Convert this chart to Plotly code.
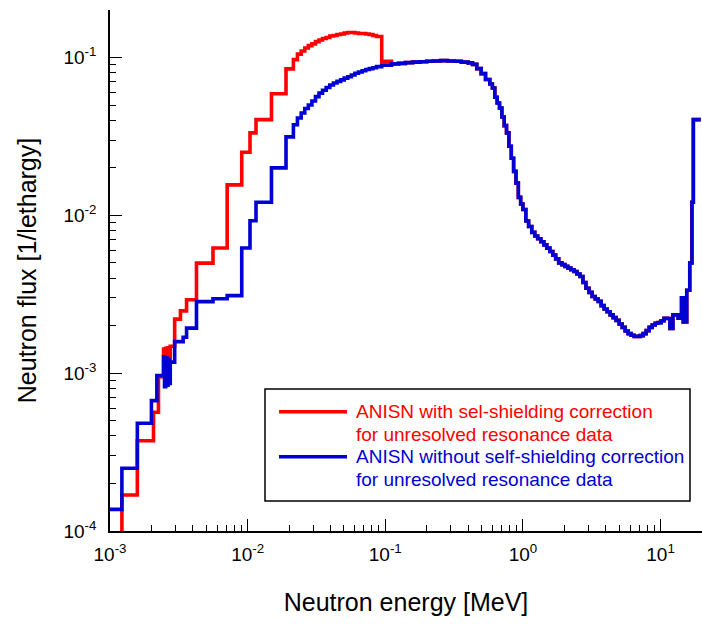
import math
import plotly.graph_objects as go

# ---------------- data ----------------
# group boundaries [MeV], ascending
ENERGY_EDGES_LOW = [
    1.00e-3, 1.22e-3, 1.58e-3, 2.00e-3, 2.07e-3, 2.19e-3, 2.25e-3, 2.45e-3,
    2.49e-3, 2.54e-3, 2.59e-3, 2.64e-3, 2.69e-3, 2.74e-3, 2.95e-3, 3.25e-3,
    3.40e-3, 3.60e-3, 4.25e-3, 5.60e-3, 7.10e-3, 9.06e-3, 1.04e-2, 1.15e-2,
    1.49e-2, 1.90e-2, 2.15e-2,
    0.0230, 0.0245, 0.0260, 0.0276, 0.0293, 0.0311, 0.0330, 0.0350, 0.0372,
    0.0395, 0.0420, 0.0446, 0.0474, 0.0503, 0.0534, 0.0567, 0.0602, 0.0639,
    0.0679, 0.0721, 0.0766, 0.0813, 0.0863, 0.0942,
]
ENERGY_EDGES_HIGH = [
    0.111, 0.125, 0.140, 0.158, 0.178, 0.200, 0.224, 0.252, 0.283, 0.318, 0.357,
    0.400, 0.430, 0.462, 0.497, 0.535, 0.575, 0.600, 0.625, 0.650, 0.676,
    0.703, 0.731, 0.760, 0.791, 0.823, 0.856, 0.890, 0.926, 0.963, 1.00,
    1.05, 1.10, 1.16, 1.22, 1.28, 1.35, 1.42, 1.49, 1.57, 1.65,
    1.73, 1.82, 1.92, 2.02, 2.12, 2.23, 2.35, 2.47, 2.60, 2.73,
    2.87, 3.02, 3.18, 3.35, 3.52, 3.70, 3.89, 4.09, 4.30, 4.52,
    4.75, 5.00, 5.26, 5.53, 5.81, 6.11, 6.43, 6.76, 7.11, 7.47,
    7.86, 8.26, 8.69, 9.14, 9.61, 10.1, 10.6, 11.2, 11.7, 12.3,
    12.8, 13.4, 13.8, 14.2, 14.6, 15.0, 15.5, 16.3, 16.9, 17.3,
    19.6,
]

# flux per unit lethargy below 0.111 MeV (the two calculations differ)
FLUX_WITH_LOW = [
    8.0e-5, 1.69e-4, 3.73e-4, 3.73e-4, 5.66e-4, 5.66e-4, 9.5e-4,
    1.42e-3, 1.05e-3, 1.44e-3, 1.10e-3, 1.45e-3, 1.20e-3,
    1.48e-3, 2.20e-3, 2.48e-3, 2.48e-3, 2.92e-3, 4.98e-3, 6.21e-3,
    1.56e-2, 2.51e-2, 3.33e-2, 4.04e-2, 5.90e-2, 8.47e-2, 9.70e-2,
    0.105, 0.110, 0.115, 0.119, 0.122, 0.126, 0.129, 0.132, 0.134,
    0.137, 0.138, 0.140, 0.141, 0.143, 0.144, 0.144, 0.143, 0.142,
    0.142, 0.141, 0.140, 0.138, 0.136, 0.0946,
]
FLUX_WITHOUT_LOW = [
    1.37e-4, 2.50e-4, 4.82e-4, 6.70e-4, 6.70e-4, 9.66e-4, 9.66e-4,
    1.27e-3, 8.2e-4, 1.25e-3, 8.4e-4, 1.22e-3, 8.6e-4,
    1.175e-3, 1.585e-3, 1.585e-3, 1.69e-3, 1.93e-3, 2.84e-3, 2.96e-3,
    3.10e-3, 6.21e-3, 9.24e-3, 1.21e-2, 2.00e-2, 3.14e-2, 3.75e-2,
    0.0414, 0.0445, 0.0475, 0.0500, 0.0530, 0.0565, 0.0595, 0.0620, 0.0645,
    0.0670, 0.0690, 0.0706, 0.0722, 0.0740, 0.0755, 0.0775, 0.0795, 0.0810,
    0.0825, 0.0840, 0.0850, 0.0862, 0.0875, 0.0895,
]
# above 0.111 MeV both calculations coincide
FLUX_COMMON_HIGH = [
    0.0912, 0.0918, 0.0928, 0.0935, 0.0940, 0.0946, 0.0950, 0.0955, 0.0950, 0.0946,
    0.0935, 0.0925, 0.0905, 0.0850, 0.0790, 0.0725, 0.0680, 0.0641, 0.0560, 0.0515,
    0.0479, 0.0420, 0.0370, 0.0333, 0.0274, 0.0230, 0.0190, 0.0160, 0.0130, 0.0118,
    0.0109, 0.0092, 0.0085, 0.0078, 0.0074, 0.0071, 0.0068, 0.0065, 0.0062, 0.0059,
    0.0056, 0.0053, 0.0050, 0.00487, 0.00475, 0.00464, 0.00452, 0.00441, 0.00425, 0.0041,
    0.00375, 0.00345, 0.00325, 0.00306, 0.00295, 0.00285, 0.00268, 0.00255, 0.00245, 0.00234,
    0.00225, 0.00216, 0.00205, 0.00195, 0.00185, 0.00178, 0.00174, 0.00171, 0.00171, 0.00173,
    0.00178, 0.00186, 0.00195, 0.00202, 0.00207, 0.00209, 0.00215, 0.00223, 0.00222, 0.00192,
    0.00234, 0.00234, 0.00223, 0.00223, 0.0030, 0.00211, 0.00211, 0.00335, 0.0050, 0.0121,
    0.0404,
]

X_TICK_VALUES = [1e-3, 1e-2, 1e-1, 1e0, 1e1]
X_TICK_LABELS = ["10<sup>-3</sup>", "10<sup>-2</sup>", "10<sup>-1</sup>", "10<sup>0</sup>", "10<sup>1</sup>"]
Y_TICK_VALUES = [1e-4, 1e-3, 1e-2, 1e-1]
Y_TICK_LABELS = ["10<sup>-4</sup>", "10<sup>-3</sup>", "10<sup>-2</sup>", "10<sup>-1</sup>"]

SERIES_NAMES = [
    ["ANISN with sel-shielding correction", "for unresolved resonance data"],
    ["ANISN without self-shielding correction", "for unresolved resonance data"],
]

# ---------------- build ----------------
edges = ENERGY_EDGES_LOW + ENERGY_EDGES_HIGH
flux_with = FLUX_WITH_LOW + FLUX_COMMON_HIGH
flux_without = FLUX_WITHOUT_LOW + FLUX_COMMON_HIGH
assert len(edges) == len(flux_with) + 1, (len(edges), len(flux_with))
assert len(flux_with) == len(flux_without)


def step_xy(e, v):
    return list(e), list(v) + [v[-1]]


RED = "#ff0000"
BLUE = "#0000d2"
FONT = "Liberation Sans, Arial, Helvetica, sans-serif"

fig = go.Figure()
xr, yr = step_xy(edges, flux_with)
fig.add_trace(go.Scatter(x=xr, y=yr, mode="lines", line=dict(color=RED, width=3.6, shape="hv"),
                         name=" ".join(SERIES_NAMES[0])))
xb, yb = step_xy(edges, flux_without)
fig.add_trace(go.Scatter(x=xb, y=yb, mode="lines", line=dict(color=BLUE, width=3.6, shape="hv"),
                         name=" ".join(SERIES_NAMES[1])))

L, R, T, B = 110, 0, 10, 93
W, H = 702, 624
pw, ph = W - L - R, H - T - B


def px(xp):
    return (xp - L) / pw


def py(yp):
    return (H - B - yp) / ph


fig.update_layout(
    width=W, height=H,
    margin=dict(l=L, r=R, t=T, b=B),
    plot_bgcolor="white", paper_bgcolor="white",
    showlegend=False,
    font=dict(family=FONT, color="black"),
    xaxis=dict(
        type="log", range=[-3, math.log10(20)],
        showline=True, linecolor="black", linewidth=1.5, mirror=False,
        showgrid=False, zeroline=False,
        ticks="inside", ticklen=12, tickwidth=1, tickcolor="black",
        tickmode="array", tickvals=X_TICK_VALUES, ticktext=X_TICK_LABELS,
        tickfont=dict(size=19), ticklabelstandoff=5,
        minor=dict(ticks="inside", ticklen=6, tickwidth=1, tickcolor="black", dtick="D1", showgrid=False),
        title=dict(text="Neutron energy [MeV]", font=dict(size=25), standoff=30),
    ),
    yaxis=dict(
        type="log", range=[-4, math.log10(0.2)],
        showline=True, linecolor="black", linewidth=1.5, mirror=False,
        showgrid=False, zeroline=False,
        ticks="inside", ticklen=12, tickwidth=1, tickcolor="black",
        tickmode="array", tickvals=Y_TICK_VALUES, ticktext=Y_TICK_LABELS,
        tickfont=dict(size=19), ticklabelstandoff=8,
        minor=dict(ticks="inside", ticklen=6, tickwidth=1, tickcolor="black", dtick="D1", showgrid=False),
        title=dict(text="Neutron flux [1/lethargy]", font=dict(size=25), standoff=20),
    ),
)

# legend drawn as a framed box
fig.add_shape(type="rect", xref="paper", yref="paper",
              x0=px(265), x1=px(690), y0=py(501), y1=py(389),
              line=dict(color="black", width=1.5), fillcolor="white", layer="above")
for i, (col, yline) in enumerate([(RED, 411.7), (BLUE, 456.7)]):
    fig.add_shape(type="line", xref="paper", yref="paper",
                  x0=px(279), x1=px(347), y0=py(yline), y1=py(yline),
                  line=dict(color=col, width=3.6), layer="above")
    for j, txt in enumerate(SERIES_NAMES[i]):
        fig.add_annotation(xref="paper", yref="paper", x=px(354), y=py(yline + 22.5 * j),
                           xanchor="left", yanchor="middle", showarrow=False,
                           text=txt, font=dict(size=19, color=col, family=FONT))

fig.write_html("out.html")
